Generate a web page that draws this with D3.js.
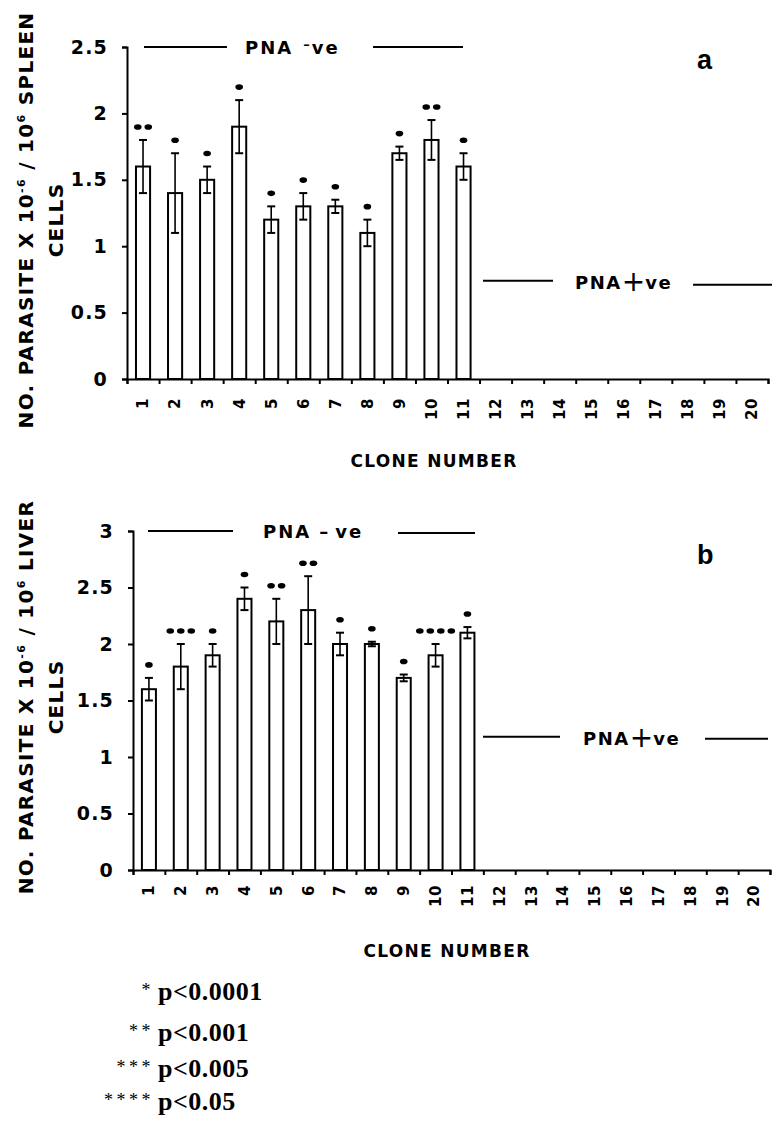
<!DOCTYPE html>
<html>
<head>
<meta charset="utf-8">
<script src="https://cdn.jsdelivr.net/npm/d3@7"></script>
<style>
  body { margin: 0; background: #fff; }
  svg { display: block; }
</style>
</head>
<body>
<script>
// clone numbers along the x axis
const clones = ["1","2","3","4","5","6","7","8","9","10","11","12","13","14","15","16","17","18","19","20"];

// panel a: spleen
const spleenMeans  = [1.6, 1.4, 1.5, 1.9, 1.2, 1.3, 1.3, 1.1, 1.7, 1.8, 1.6];
const spleenErrors = [0.2, 0.3, 0.1, 0.2, 0.1, 0.1, 0.05, 0.1, 0.05, 0.15, 0.1];
const spleenStars  = [2, 1, 1, 1, 1, 1, 1, 1, 1, 2, 1];
const spleenTicks  = [0, 0.5, 1, 1.5, 2, 2.5];

// panel b: liver
const liverMeans  = [1.6, 1.8, 1.9, 2.4, 2.2, 2.3, 2.0, 2.0, 1.7, 1.9, 2.1];
const liverErrors = [0.1, 0.2, 0.1, 0.1, 0.2, 0.3, 0.1, 0.02, 0.03, 0.1, 0.05];
const liverStars  = [1, 3, 1, 1, 2, 2, 1, 1, 1, 4, 1];
const liverTicks  = [0, 0.5, 1, 1.5, 2, 2.5, 3];

// significance legend
const legendStars  = ["*", "**", "***", "****"];
const legendLabels = ["p<0.0001", "p<0.001", "p<0.005", "p<0.05"];

const width = 775, height = 1123;
const sans = "'DejaVu Sans', Verdana, sans-serif";

const svg = d3.select("body").append("svg")
  .attr("width", width)
  .attr("height", height);

svg.append("rect").attr("width", width).attr("height", height).attr("fill", "#fff");

function drawPanel(opt) {
  const g = svg.append("g");

  const x = d3.scaleBand().domain(clones).range([opt.x0, opt.x1]);
  const xEdge = d3.scaleLinear().domain([0, clones.length]).range([opt.x0, opt.x1]);
  const y = d3.scaleLinear().domain([0, d3.max(opt.ticks)]).range([opt.yBottom, opt.yTop]);

  const data = opt.means.map((m, i) => ({
    clone: clones[i], mean: m, err: opt.errors[i], stars: opt.stars[i]
  }));

  const bw = x.bandwidth() * 0.44;

  // bars
  g.append("g")
    .selectAll("rect")
    .data(data)
    .join("rect")
    .attr("x", d => x(d.clone) + x.bandwidth() / 2 - bw / 2)
    .attr("y", d => y(d.mean))
    .attr("width", bw)
    .attr("height", d => y(0) - y(d.mean))
    .attr("fill", "#fff")
    .attr("stroke", "#000")
    .attr("stroke-width", 2);

  // error bars
  const eb = g.append("g").attr("stroke", "#000");
  const cx = d => x(d.clone) + x.bandwidth() / 2;
  eb.selectAll("line.v").data(data).join("line")
    .attr("class", "v")
    .attr("x1", cx).attr("x2", cx)
    .attr("y1", d => y(d.mean - d.err)).attr("y2", d => y(d.mean + d.err))
    .attr("stroke-width", 1.6);
  eb.selectAll("line.top").data(data).join("line")
    .attr("class", "top")
    .attr("x1", d => cx(d) - 4).attr("x2", d => cx(d) + 4)
    .attr("y1", d => y(d.mean + d.err)).attr("y2", d => y(d.mean + d.err))
    .attr("stroke-width", 2);
  eb.selectAll("line.bot").data(data).join("line")
    .attr("class", "bot")
    .attr("x1", d => cx(d) - 4).attr("x2", d => cx(d) + 4)
    .attr("y1", d => y(d.mean - d.err)).attr("y2", d => y(d.mean - d.err))
    .attr("stroke-width", 2);

  // significance dots
  const dots = data.flatMap(d => d3.range(d.stars).map(k => ({
    x: cx(d) + (k - (d.stars - 1) / 2) * 10.5,
    y: y(d.mean + d.err) - 13
  })));
  g.append("g").selectAll("ellipse").data(dots).join("ellipse")
    .attr("cx", d => d.x).attr("cy", d => d.y)
    .attr("rx", 3.8).attr("ry", 2.8)
    .attr("fill", "#000");

  // y axis
  const yAxis = g.append("g")
    .attr("transform", `translate(${opt.x0},0)`)
    .call(d3.axisLeft(y).tickValues(opt.ticks).tickSize(5).tickPadding(14)
      .tickFormat(d => String(d)));
  yAxis.select(".domain").attr("stroke-width", 2);
  yAxis.selectAll(".tick line").attr("stroke-width", 2);
  yAxis.selectAll("text")
    .attr("font-family", sans).attr("font-size", 19).attr("font-weight", "bold")
    .attr("letter-spacing", 1.2).attr("fill", "#000");

  // x axis: ticks on clone boundaries
  const xAxis = g.append("g")
    .attr("transform", `translate(0,${opt.yBottom})`)
    .call(d3.axisBottom(xEdge).tickValues(d3.range(0, clones.length + 1))
      .tickSize(5).tickFormat(""));
  xAxis.select(".domain").attr("stroke-width", 2);
  xAxis.selectAll(".tick line").attr("stroke-width", 2);

  // x labels, rotated
  const xLab = g.append("g")
    .attr("transform", `translate(0,${opt.yBottom})`)
    .call(d3.axisBottom(x).tickSize(0));
  xLab.select(".domain").remove();
  xLab.selectAll("text")
    .attr("transform", "rotate(-90)")
    .attr("x", -opt.labelGap).attr("y", 0).attr("dy", "0.36em")
    .style("text-anchor", "end")
    .attr("font-family", sans).attr("font-size", 15).attr("font-weight", "bold")
    .attr("letter-spacing", 0.5)
    .attr("fill", "#000");

  // x title
  g.append("text")
    .attr("x", opt.xTitleX).attr("y", opt.xTitleY)
    .attr("text-anchor", "middle")
    .attr("font-family", sans).attr("font-size", 17).attr("font-weight", "bold")
    .attr("letter-spacing", 1.3)
    .text("CLONE NUMBER");

  // y title (two lines)
  const t1 = g.append("text")
    .attr("transform", `translate(${opt.yTitleX1},${opt.yTitleY}) rotate(-90)`)
    .attr("text-anchor", "middle")
    .attr("font-family", sans).attr("font-size", 20).attr("font-weight", "bold")
    .attr("letter-spacing", 1.3);
  t1.append("tspan").text("NO. PARASITE X 10");
  t1.append("tspan").attr("font-size", 11).attr("dy", -8).text("-6");
  t1.append("tspan").attr("dy", 8).text(" / 10");
  t1.append("tspan").attr("font-size", 11).attr("dy", -8).text("6");
  t1.append("tspan").attr("dy", 8).text(" " + opt.organ);

  g.append("text")
    .attr("transform", `translate(${opt.yTitleX2},${opt.yTitleY}) rotate(-90)`)
    .attr("text-anchor", "middle")
    .attr("font-family", sans).attr("font-size", 20).attr("font-weight", "bold")
    .attr("letter-spacing", 1.3)
    .text("CELLS");

  // PNA -ve bracket
  const ny = y(opt.negY);
  g.append("line").attr("x1", opt.negL[0]).attr("x2", opt.negL[1])
    .attr("y1", ny).attr("y2", ny).attr("stroke", "#000").attr("stroke-width", 2);
  g.append("line").attr("x1", opt.negR[0]).attr("x2", opt.negR[1])
    .attr("y1", ny + opt.negTilt).attr("y2", ny + opt.negTilt).attr("stroke", "#000").attr("stroke-width", 2);
  const nt = g.append("text")
    .attr("x", opt.negTextX).attr("y", ny + 7)
    .attr("font-family", sans).attr("font-size", 18).attr("font-weight", "bold")
    .attr("letter-spacing", 2);
  nt.append("tspan").text("PNA");
  if (opt.supMinus) {
    nt.append("tspan").attr("dx", 10).attr("dy", -5).attr("font-size", 13).text("\u2013");
    nt.append("tspan").attr("dx", 0).attr("dy", 5).text("ve");
  } else {
    nt.append("tspan").attr("dx", 8).text("\u2013");
    nt.append("tspan").attr("dx", 5).text("ve");
  }

  // PNA +ve bracket
  const py = y(opt.posY);
  g.append("line").attr("x1", opt.posL[0]).attr("x2", opt.posL[1])
    .attr("y1", py).attr("y2", py).attr("stroke", "#000").attr("stroke-width", 2);
  g.append("line").attr("x1", opt.posR[0]).attr("x2", opt.posR[1])
    .attr("y1", py + opt.posTilt).attr("y2", py + opt.posTilt).attr("stroke", "#000").attr("stroke-width", 2);
  const pt = g.append("text")
    .attr("x", opt.posTextX).attr("y", py + 8)
    .attr("font-family", sans).attr("font-size", 18).attr("font-weight", "bold")
    .attr("letter-spacing", 1.5);
  pt.append("tspan").text("PNA");
  pt.append("tspan").attr("font-size", 28).attr("font-weight", "normal")
    .attr("letter-spacing", 0).attr("dy", 2).text("+");
  pt.append("tspan").attr("dy", -2).text("ve");

  // panel letter
  g.append("text")
    .attr("x", opt.letterX).attr("y", opt.letterY)
    .attr("font-family", "'Liberation Sans', Arial, sans-serif")
    .attr("font-size", 27).attr("font-weight", "bold")
    .text(opt.letter);
}

drawPanel({
  means: spleenMeans, errors: spleenErrors, stars: spleenStars, ticks: spleenTicks,
  organ: "SPLEEN", letter: "a",
  x0: 127, x1: 768, yBottom: 379, yTop: 47,
  labelGap: 19, xTitleX: 434, xTitleY: 467,
  yTitleX1: 33, yTitleX2: 63, yTitleY: 220,
  negY: 2.5, negL: [144, 227], negR: [373, 463], negTilt: 0, negTextX: 245, supMinus: true,
  posY: 0.74, posL: [483, 553], posR: [693, 772], posTilt: 4, posTextX: 575,
  letterX: 697, letterY: 69
});

drawPanel({
  means: liverMeans, errors: liverErrors, stars: liverStars, ticks: liverTicks,
  organ: "LIVER", letter: "b",
  x0: 133, x1: 770, yBottom: 870, yTop: 531,
  labelGap: 15, xTitleX: 447, xTitleY: 957,
  yTitleX1: 33, yTitleX2: 63, yTitleY: 697,
  negY: 3, negL: [148, 233], negR: [398, 475], negTilt: 2, negTextX: 263, supMinus: false,
  posY: 1.18, posL: [483, 560], posR: [705, 768], posTilt: 2, posTextX: 583,
  letterX: 697, letterY: 564
});

// legend
const legendY = [1000, 1041, 1077, 1110];
const leg = svg.append("g");
leg.selectAll("text.star").data(legendStars).join("text")
  .attr("class", "star")
  .attr("x", 154).attr("y", (d, i) => legendY[i] - 4)
  .attr("text-anchor", "end")
  .attr("font-family", "'Liberation Serif', 'Times New Roman', serif")
  .attr("font-size", 18).attr("letter-spacing", 3.5)
  .text(d => d);
leg.selectAll("text.lab").data(legendLabels).join("text")
  .attr("class", "lab")
  .attr("x", 158).attr("y", (d, i) => legendY[i])
  .attr("font-family", "'Liberation Serif', 'Times New Roman', serif")
  .attr("font-size", 26).attr("font-weight", "bold").attr("letter-spacing", 0.5)
  .text(d => d);
</script>
</body>
</html>
